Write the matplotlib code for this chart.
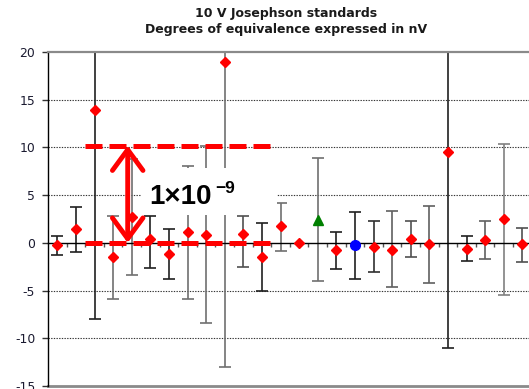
import matplotlib
matplotlib.use('Agg')
import matplotlib.pyplot as plt
import numpy as np
from matplotlib.patches import Rectangle

# ---- data (nV) ----
lab = np.arange(1, 27)
dev = [-0.25, 1.4, 13.9, -1.5, 2.7, 0.4, -1.2, 1.1, 0.85, 18.9, 0.95, -1.5, 1.75,
       0.0, 2.4, -0.8, -0.2, -0.4, -0.7, 0.4, -0.1, 9.5, -0.6, 0.3, 2.5, -0.15]
upper = [0.75, 3.8, 36.0, 2.8, 8.8, 2.8, 1.4, 8.1, 10.1, 51.0, 2.8, 2.1, 4.2,
         0.0, 8.9, 1.1, 3.2, 2.3, 3.35, 2.3, 3.9, 30.0, 0.75, 2.3, 10.4, 1.6]
lower = [-1.3, -1.0, -8.0, -5.9, -3.4, -2.6, -3.8, -5.9, -8.4, -13.0, -2.5, -5.0, -0.87,
         0.0, -4.0, -2.7, -3.8, -3.1, -4.6, -1.5, -4.2, -11.0, -1.9, -1.7, -5.5, -2.05]
kind = ['lab'] * 26
kind[14] = 'pilot'
kind[16] = 'link'
yticks = [-15, -10, -5, 0, 5, 10, 15, 20]
ytick_labels = ['-15', '-10', '-5', '0', '5', '10', '15', '20']

# error bar shades (style)
err_colors = ['#202020', '#202020', '#202020', '#707070', '#707070', '#202020', '#202020',
              '#707070', '#707070', '#707070', '#505050', '#202020', '#707070', '#202020',
              '#707070', '#202020', '#202020', '#303030', '#606060', '#505050', '#606060',
              '#202020', '#202020', '#606060', '#808080', '#505050']

plt.rcParams['font.family'] = ['DejaVu Sans']

fig = plt.figure(figsize=(5.29, 3.89), dpi=100)
fig.patch.set_facecolor('white')
ax = fig.add_axes([48 / 529, 3 / 389, 1 - 48 / 529, (386 - 52) / 389])
ax.set_xlim(0.5, 26.36)
ax.set_ylim(-15, 20)

# grid lines
for g in [-10, -5, 5, 10, 15]:
    ax.axhline(g, color='#333333', lw=0.8, ls=(0, (1.2, 1.2)), zorder=0.5)
ax.axhline(-15, color='#8a8a8a', lw=2, zorder=1, clip_on=False)

# spines
ax.spines['right'].set_visible(False)
ax.spines['top'].set_color('#8a8a8a')
ax.spines['top'].set_linewidth(1.6)
ax.spines['left'].set_color('black')
ax.spines['left'].set_linewidth(1.0)
ax.spines['bottom'].set_position(('data', 0))
ax.spines['bottom'].set_color('black')
ax.spines['bottom'].set_linewidth(1.0)

ax.set_xticks(np.arange(1.5, 26.5, 1))
ax.set_xticklabels([])
ax.tick_params(axis='x', direction='out', length=3, width=1, color='#555555')
ax.set_yticks(yticks)
ax.set_yticklabels(ytick_labels)
ax.tick_params(axis='y', direction='out', length=4.2, width=1, color='#333333',
               pad=5, labelsize=8.9, labelcolor='#1a1a30')

# error bars and markers
for i in range(len(lab)):
    lo = dev[i] - lower[i]
    hi = upper[i] - dev[i]
    if lo > 0 or hi > 0:
        ax.errorbar(lab[i], dev[i], yerr=[[lo], [hi]], fmt='none', ecolor=err_colors[i],
                    elinewidth=1.2, capsize=4.5, capthick=1.2, zorder=2)
    if kind[i] == 'pilot':
        ax.plot(lab[i], dev[i], marker='^', ms=7, color='#008000', mec='#008000', ls='none', zorder=3)
    elif kind[i] == 'link':
        ax.plot(lab[i], dev[i], marker='o', ms=7, color='#0000ff', mec='#0000ff', ls='none', zorder=3)
    else:
        ax.plot(lab[i], dev[i], marker='D', ms=5.5, color='#ff0000', mec='#ff0000', ls='none', zorder=3)

# annotation overlay
ax.add_patch(Rectangle((5.5, 2.9), 7.31, 4.91, fc='white', ec='none', zorder=5))
for yy in [10.2, 0.0]:
    ax.plot([2.5, 12.7], [yy, yy], color='#ff0000', lw=3.6, ls=(0, (3.4, 1.4)),
            dash_capstyle='butt', solid_capstyle='butt', zorder=6)
ax.annotate('', xy=(4.785, 10.2), xytext=(4.785, 0.0),
            arrowprops=dict(arrowstyle='<->,head_length=1.5,head_width=1.1', color='#ff0000',
                            lw=3.5, shrinkA=0, shrinkB=0), zorder=7)
ax.text(5.95, 4.05, '1×10', fontsize=20, fontweight='bold', family=['Liberation Sans', 'DejaVu Sans'],
        ha='left', va='baseline', color='black', zorder=8)
ax.text(9.48, 5.2, '−9', fontsize=12.5, fontweight='bold', family=['Liberation Sans', 'DejaVu Sans'],
        ha='left', va='baseline', color='black', zorder=8)

# titles
fig.text(0.54, 1 - 14 / 389, '10 V Josephson standards', ha='center', va='center',
         fontsize=9, fontweight='bold', color='#1a1a1a')
fig.text(0.54, 1 - 30 / 389, 'Degrees of equivalence expressed in nV', ha='center', va='center',
         fontsize=9, fontweight='bold', color='#1a1a1a')

fig.savefig('out.png', dpi=100, facecolor='white')
